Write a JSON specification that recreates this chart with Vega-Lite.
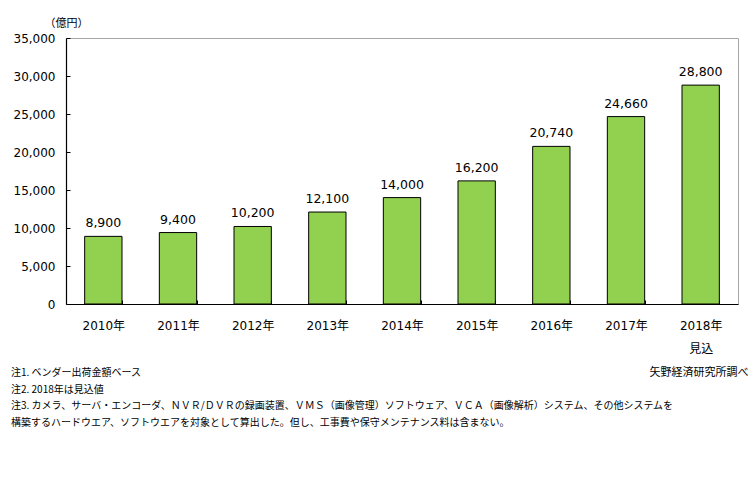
{
  "$schema": "https://vega.github.io/schema/vega-lite/v6.json",
  "autosize": {"type": "none"},
  "width": 672,
  "height": 266,
  "padding": {"left": 66, "top": 38, "right": 18, "bottom": 175},
  "background": "white",
  "config": {
    "view": {"stroke": "#a6a6a6", "strokeWidth": 1},
    "font": "DejaVu Sans, Noto Sans CJK JP"
  },
  "title": {
    "text": [
      "注1. ベンダー出荷金額ベース",
      "注2. 2018年は見込値",
      "注3. カメラ、サーバ・エンコーダ、ＮＶＲ/ＤＶＲの録画装置、ＶＭＳ（画像管理）ソフトウェア、ＶＣＡ（画像解析）システム、その他システムを",
      "構築するハードウエア、ソフトウエアを対象として算出した。但し、工事費や保守メンテナンス料は含まない。"
    ],
    "orient": "bottom",
    "anchor": "start",
    "frame": "group",
    "font": "Noto Sans CJK JP",
    "fontSize": 10,
    "fontWeight": "normal",
    "color": "#000000",
    "lineHeight": 16.5,
    "dx": -55,
    "dy": -9,
    "offset": 0
  },
  "data": {
    "values": [
      {"year": "2010年", "value": 8900},
      {"year": "2011年", "value": 9400},
      {"year": "2012年", "value": 10200},
      {"year": "2013年", "value": 12100},
      {"year": "2014年", "value": 14000},
      {"year": "2015年", "value": 16200},
      {"year": "2016年", "value": 20740},
      {"year": "2017年", "value": 24660},
      {"year": "2018年", "value": 28800}
    ]
  },
  "encoding": {
    "x": {
      "field": "year",
      "type": "nominal",
      "sort": null,
      "scale": {"paddingInner": 0.5, "paddingOuter": 0.25},
      "axis": {
        "title": "矢野経済研究所調べ",
        "titleFont": "Noto Sans CJK JP",
        "titleFontSize": 11,
        "titleFontWeight": "normal",
        "titleColor": "#000000",
        "titleX": 682,
        "titleY": 68,
        "titleAlign": "right",
        "titleBaseline": "middle",
        "labelAngle": 0,
        "labelFontSize": 12,
        "labelColor": "#000000",
        "labelPadding": 20,
        "labelLineHeight": 23,
        "labelExpr": "datum.value == '2018年' ? ['2018年', '見込'] : datum.value",
        "tickBand": "extent",
        "tickSize": -4,
        "tickColor": "#000000",
        "domainColor": "#000000",
        "domainWidth": 1.2
      }
    },
    "y": {
      "field": "value",
      "type": "quantitative",
      "scale": {"domain": [0, 35000]},
      "axis": {
        "title": "（億円）",
        "titleAngle": 0,
        "titleX": 0,
        "titleY": -15,
        "titleAlign": "center",
        "titleBaseline": "middle",
        "titleFont": "Noto Sans CJK JP",
        "titleFontSize": 11,
        "titleFontWeight": "normal",
        "titleColor": "#000000",
        "values": [0, 5000, 10000, 15000, 20000, 25000, 30000, 35000],
        "format": ",d",
        "grid": false,
        "labelFontSize": 12,
        "labelColor": "#000000",
        "labelPadding": 15,
        "tickSize": -4,
        "tickColor": "#000000",
        "domainColor": "#000000",
        "domainWidth": 1.2
      }
    }
  },
  "layer": [
    {
      "mark": {"type": "bar", "color": "#92D050", "stroke": "#000000", "strokeWidth": 1}
    },
    {
      "mark": {"type": "text", "baseline": "bottom", "dy": -6, "fontSize": 12.5, "color": "#000000"},
      "encoding": {"text": {"field": "value", "type": "quantitative", "format": ",d"}}
    }
  ]
}
